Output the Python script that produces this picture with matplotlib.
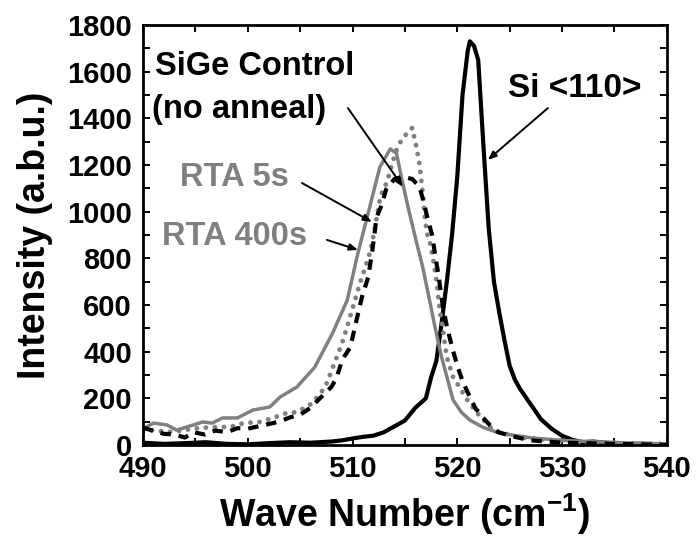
import matplotlib
matplotlib.use("Agg")
import matplotlib.pyplot as plt
from matplotlib.ticker import MultipleLocator

# Si <110> reference (black solid)
si_x = [490, 492, 494, 496, 498, 500, 502, 504, 506, 508, 509, 510, 511, 512, 513,
        514, 515, 516, 517, 517.5, 518, 518.5, 519, 519.5, 520, 520.5, 521, 521.2,
        521.6, 522, 522.5, 523, 523.5, 524, 524.5, 525, 525.5, 526, 527, 528, 529,
        530, 531, 532, 533, 534, 536, 538, 540]
si_i = [10, 5, 8, 12, 5, 3, 8, 12, 10, 15, 20, 28, 35, 40, 55,
        80, 105, 160, 200, 290, 360, 520, 700, 900, 1150, 1500, 1690, 1730,
        1710, 1650, 1280, 930, 700, 570, 450, 340, 280, 240, 175, 110, 70,
        40, 22, 12, 15, 10, 5, 5, 2]

# SiGe control, no anneal (black dashed)
ctrl_x = [490, 491, 492, 493, 494, 494.8, 495.9, 496.9, 498, 499, 500, 501, 502,
          503, 504, 505, 506, 507, 508, 508.5, 509, 509.8, 510.3, 510.9, 511.5,
          511.9, 512.3, 512.8, 513.2, 514, 514.8, 515.7, 516.4, 516.8, 517.2,
          517.6, 517.9, 518.2, 518.6, 519, 519.5, 520, 520.5, 521, 521.7, 522.4,
          523.1, 523.9, 525, 527, 530, 535, 540]
ctrl_i = [75, 60, 48, 45, 32, 55, 45, 62, 55, 72, 70, 80, 90,
          100, 118, 130, 160, 205, 250, 290, 364, 420, 520, 634, 720,
          836, 977, 1030, 1095, 1140, 1150, 1140, 1106, 1040, 964,
          900, 810, 730, 600, 510, 420, 340, 275, 225, 160, 120,
          86, 56, 40, 20, 10, 5, 0]

# RTA 5s (grey dotted)
rta5_x = [490, 491, 492, 492.9, 494, 495.4, 497, 498.3, 499.6, 501.2, 502.4, 503.7,
          504.7, 506.2, 507.4, 508.5, 509.1, 510.1, 510.7, 511.2, 511.7, 512.1,
          512.6, 512.9, 513.3, 513.8, 514.3, 514.8, 515.7, 516.1, 516.4, 516.7,
          516.9, 517.1, 517.4, 517.6, 517.9, 518.1, 518.3, 518.5, 519, 519.6,
          520.2, 521, 521.9, 523.4, 525.7, 528.8, 532, 536, 540]
rta5_i = [60, 64, 58, 56, 65, 73, 77, 77, 94, 99, 116, 137,
          141, 180, 249, 377, 450, 600, 693, 760, 830, 921,
          1050, 1093, 1127, 1209, 1277, 1316, 1359, 1277, 1200, 1080,
          977, 909, 866, 823, 741, 673, 587, 530, 377, 291,
          249, 190, 137, 64, 34, 21, 12, 8, 5]

# RTA 400s (grey solid)
rta400_x = [490, 491, 492.3, 493.2, 494.8, 495.7, 496.6, 497.6, 499, 500.5, 502.1,
            503.1, 504.7, 506.4, 508.1, 509.5, 510.5, 511.4, 512.6, 513.6, 514.2,
            514.7, 515.3, 516.1, 516.7, 517.4, 517.9, 518.5, 519.6, 520.4, 521.2,
            522.4, 524, 527.2, 530, 533.6, 537, 540]
rta400_i = [70, 94, 86, 64, 86, 99, 94, 116, 116, 150, 163,
            206, 249, 334, 480, 621, 820, 977, 1190, 1269, 1250,
            1140, 1020, 870, 763, 610, 500, 377, 193, 140, 107,
            77, 51, 30, 20, 13, 8, 5]

GREY = "#808080"

plt.rcParams["font.family"] = ["Liberation Sans", "DejaVu Sans"]
plt.rcParams["font.weight"] = "bold"
plt.rcParams["mathtext.fontset"] = "custom"
plt.rcParams["mathtext.rm"] = "Liberation Sans:bold"
plt.rcParams["mathtext.bf"] = "Liberation Sans:bold"
plt.rcParams["mathtext.default"] = "bf"

fig = plt.figure(figsize=(6.96, 5.41), dpi=100)
ax = fig.add_axes([0.2055, 0.1774, 0.958 - 0.2055, 0.9538 - 0.1774])

ax.plot(si_x, si_i, color="black", lw=3.0, solid_joinstyle="round")
ax.plot(rta400_x, rta400_i, color=GREY, lw=2.5, solid_joinstyle="round")
ax.plot(rta5_x, rta5_i, color=GREY, lw=3.5, linestyle=(0, (0.01, 1.85)),
        dash_capstyle="round")
ax.plot(ctrl_x, ctrl_i, color="black", lw=3.0, linestyle=(0, (2.5, 1.9)))

ax.set_xlim(490, 540)
ax.set_ylim(0, 1800)
ax.xaxis.set_major_locator(MultipleLocator(10))
ax.xaxis.set_minor_locator(MultipleLocator(5))
ax.yaxis.set_major_locator(MultipleLocator(200))
ax.yaxis.set_minor_locator(MultipleLocator(100))
ax.tick_params(which="both", direction="in", top=True, right=True,
               width=1.4, length=5)
ax.tick_params(axis="both", labelsize=21)
ax.tick_params(axis="x", pad=7)
ax.tick_params(axis="y", pad=8)
for lab in ax.get_xticklabels() + ax.get_yticklabels():
    lab.set_fontweight("bold")
for sp in ax.spines.values():
    sp.set_linewidth(2.0)

ax.set_xlabel("Wave Number (cm$^{-1}$)", fontsize=27, fontweight="bold", labelpad=6)
ax.set_ylabel("Intensity (a.b.u.)", fontsize=27, fontweight="bold", labelpad=10)

# annotations
ax.text(491.15, 1586, "SiGe Control", fontsize=23.5, fontweight="bold", va="baseline")
ax.text(490.86, 1402, "(no anneal)", fontsize=23.5, fontweight="bold", va="baseline")
ax.text(493.53, 1110, "RTA 5s", fontsize=23.5, fontweight="bold", color=GREY, va="baseline")
ax.text(491.81, 857, "RTA 400s", fontsize=23.5, fontweight="bold", color=GREY, va="baseline")
ax.text(524.83, 1492, "Si <110>", fontsize=24, fontweight="bold", va="baseline")

arrow = dict(arrowstyle="-|>,head_length=0.5,head_width=0.2", color="black", lw=1.4,
             shrinkA=0, shrinkB=0)
ax.annotate("", xy=(514.81, 1106), xytext=(509.56, 1444), arrowprops=arrow)
ax.annotate("", xy=(511.85, 956), xytext=(505.17, 1123), arrowprops=arrow)
ax.annotate("", xy=(510.52, 836), xytext=(507.56, 879), arrowprops=arrow)
ax.annotate("", xy=(522.92, 1222), xytext=(528.65, 1444), arrowprops=arrow)

fig.savefig("out.png", dpi=100)
